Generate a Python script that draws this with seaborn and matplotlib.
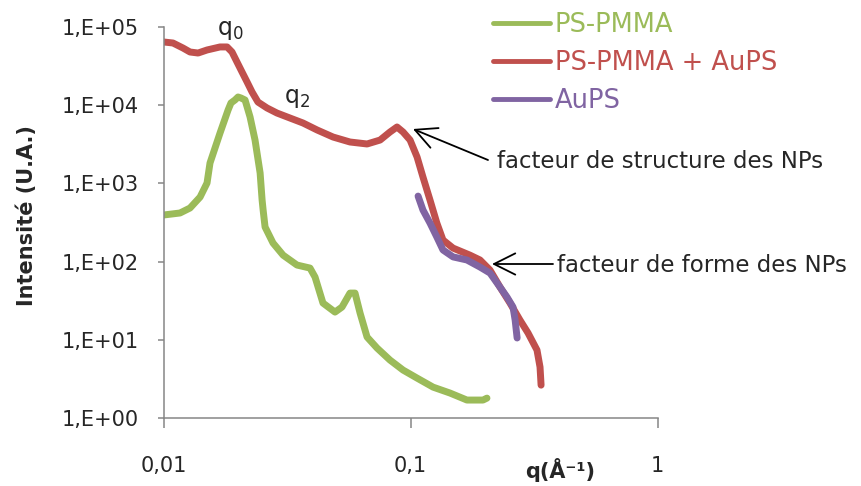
import numpy as np
import pandas as pd
import matplotlib
matplotlib.use("Agg")
import matplotlib.pyplot as plt
import seaborn as sns

# ---------------- data ----------------
q_ps = [0.0100, 0.01166, 0.0128, 0.01406, 0.0150, 0.01542, 0.01693, 0.01825, 0.01875,
        0.01946, 0.02003, 0.02059, 0.02138, 0.02240, 0.02346, 0.0246, 0.02506, 0.0253,
        0.02576, 0.02774, 0.03048, 0.03469, 0.03916, 0.04104, 0.04419, 0.04943, 0.05275,
        0.05684, 0.05957, 0.06243, 0.06664, 0.07316, 0.0825, 0.0932, 0.1062, 0.1233,
        0.1444, 0.1690, 0.1963, 0.2037]
I_ps = [394, 418, 484, 668, 1009, 1816, 4385, 8630, 10620,
        11590, 12650, 12280, 11590, 7030, 3573, 1355, 612, 456,
        277, 173, 121, 90.5, 82.8, 63.6, 29.6, 22.7, 26.3,
        39.7, 39.7, 22.1, 10.9, 7.88, 5.54, 4.13, 3.26, 2.50,
        2.10, 1.71, 1.71, 1.81]

q_mix = [0.0100, 0.01092, 0.01199, 0.0128, 0.0138, 0.0150, 0.01693, 0.01808, 0.01893,
         0.01983, 0.02078, 0.02178, 0.02282, 0.02411, 0.02624, 0.02878, 0.03249, 0.03669,
         0.04183, 0.04855, 0.05684, 0.06664, 0.07524, 0.0825, 0.0881, 0.0932, 0.0995,
         0.1062, 0.1122, 0.1198, 0.1277, 0.1352, 0.1485, 0.1739, 0.1909, 0.2096,
         0.2300, 0.2525, 0.2772, 0.2986, 0.3247, 0.3340, 0.3373]
I_mix = [63800, 61900, 53400, 47500, 46100, 50400, 55100, 55100, 47500,
         35400, 26400, 19700, 14650, 10910, 9160, 7900, 6820, 5890,
         4800, 3900, 3370, 3180, 3570, 4520, 5240, 4520, 3570,
         2168, 1203, 612, 311, 189, 149, 121, 105, 78,
         47.4, 29.6, 17.9, 12.3, 7.43, 4.51, 2.65]

q_au = [0.1072, 0.1122, 0.1198, 0.1277, 0.1352, 0.1485, 0.1690, 0.1909, 0.2096,
        0.2239, 0.2455, 0.2597, 0.2649, 0.2698]
I_au = [687, 456, 311, 206, 141, 115, 105, 85.3, 71.5,
        53.3, 35.3, 26.3, 17.9, 10.6]

series_names = ["PS-PMMA", "PS-PMMA + AuPS", "AuPS"]
series_colors = ["#9BBB59", "#C0504D", "#8064A2"]

x_ticks = [0.01, 0.1, 1]
x_tick_labels = ["0,01", "0,1", "1"]
y_ticks = [1, 10, 100, 1000, 10000, 100000]
y_tick_labels = ["1,E+00", "1,E+01", "1,E+02", "1,E+03", "1,E+04", "1,E+05"]

# ---------------- build table ----------------
df = pd.concat([
    pd.DataFrame({"q": q_ps, "I": I_ps, "serie": series_names[0]}),
    pd.DataFrame({"q": q_mix, "I": I_mix, "serie": series_names[1]}),
    pd.DataFrame({"q": q_au, "I": I_au, "serie": series_names[2]}),
], ignore_index=True)

sns.set_style("white")
plt.rcParams["font.family"] = ["DejaVu Sans"]
plt.rcParams["mathtext.fontset"] = "dejavusans"

fig = plt.figure(figsize=(8.62, 4.86), dpi=100)
ax = fig.add_axes([0.1897, 0.1393, 0.5733, 0.8058])

sns.lineplot(data=df, x="q", y="I", hue="serie", hue_order=series_names,
             palette=dict(zip(series_names, series_colors)),
             linewidth=5, estimator=None, sort=False, ax=ax,
             solid_capstyle="round", solid_joinstyle="round")

ax.set_xscale("log")
ax.set_yscale("log")
ax.set_xlim(0.01, 1)
ax.set_ylim(1, 1e5)
ax.set_xticks(x_ticks)
ax.set_xticklabels(x_tick_labels)
ax.set_yticks(y_ticks)
ax.set_yticklabels(y_tick_labels)
ax.minorticks_off()
ax.set_xlabel("")
ax.set_ylabel("")

for s in ["top", "right"]:
    ax.spines[s].set_visible(False)
for s in ["left", "bottom"]:
    ax.spines[s].set_color("#868686")
    ax.spines[s].set_linewidth(1.1)

ax.tick_params(axis="y", direction="out", length=4.5, width=1.1, color="#868686",
               labelsize=15, pad=13, left=True)
ax.tick_params(axis="x", direction="out", length=7, width=1.1, color="#868686",
               labelsize=15, pad=20, bottom=True)

# legend
handles, labels = ax.get_legend_handles_labels()
for h in handles:
    h.set_linewidth(3.5)
    h.set_solid_capstyle("round")
leg = ax.legend(handles, labels, loc="upper left",
                bbox_to_anchor=(493 / 862, 1 - 12 / 486), bbox_transform=fig.transFigure,
                frameon=False, fontsize=18.5, handlelength=2.2, handletextpad=0.2,
                labelspacing=0.47, borderpad=0, borderaxespad=0, labelcolor="linecolor")

# axis titles
fig.text(27 / 862, 1 - 216 / 486, "Intensité (U.A.)", rotation=90, ha="center",
         va="center", fontsize=15, fontweight="bold")
fig.text(560 / 862, 1 - 470 / 486, "q(Å⁻¹)", ha="center", va="center",
         fontsize=15, fontweight="bold")

# peak labels
fig.text(230 / 862, 1 - 30 / 486, r"q$_{\mathregular{0}}$", ha="center", va="center",
         fontsize=17)
fig.text(297 / 862, 1 - 98 / 486, r"q$_{\mathregular{2}}$", ha="center", va="center",
         fontsize=17)

# annotations with arrows
arrow_kw = dict(arrowstyle="->,head_length=0.9,head_width=0.45", color="black",
                lw=1.3, shrinkA=0, shrinkB=0, mutation_scale=17)
ax.annotate("", xy=(413, 486 - 129), xytext=(488, 486 - 160),
            xycoords="figure pixels", textcoords="figure pixels", arrowprops=arrow_kw)
ax.annotate("", xy=(492, 486 - 264), xytext=(553, 486 - 264),
            xycoords="figure pixels", textcoords="figure pixels", arrowprops=arrow_kw)
fig.text(497 / 862, 1 - 162 / 486, "facteur de structure des NPs", ha="left",
         va="center", fontsize=16.5)
fig.text(557 / 862, 1 - 265 / 486, "facteur de forme des NPs", ha="left",
         va="center", fontsize=16.5)

fig.savefig("out.png", dpi=100)
